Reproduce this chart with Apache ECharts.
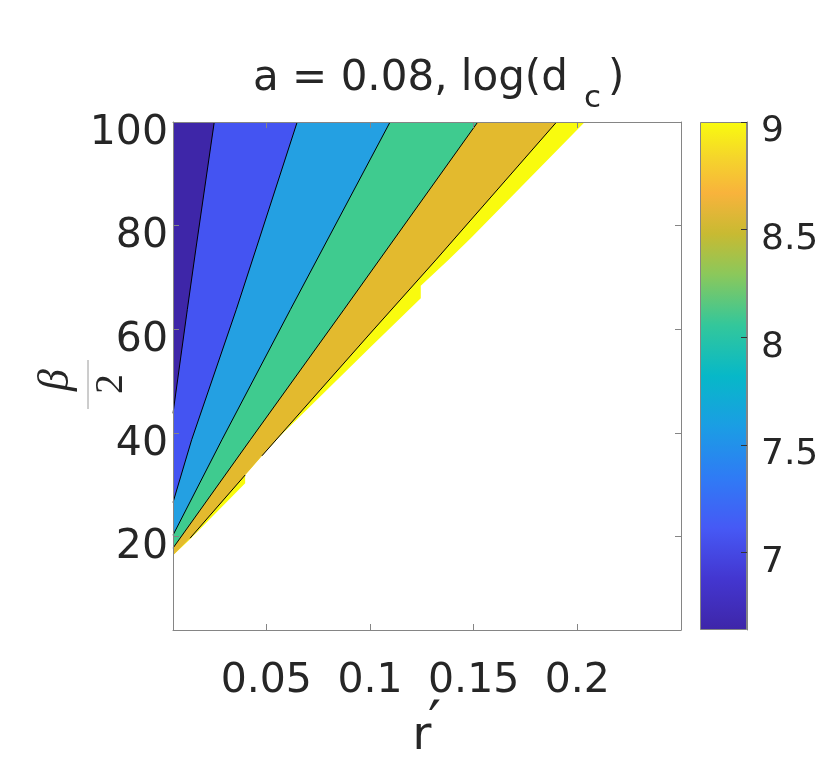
<!DOCTYPE html>
<html>
<head>
<meta charset="utf-8">
<title>a = 0.08, log(d_c)</title>
<script src="https://cdn.jsdelivr.net/npm/echarts@6/dist/echarts.min.js"></script>
<style>
  html, body { margin: 0; padding: 0; background: #fff; }
  #chart { width: 830px; height: 765px; }
</style>
</head>
<body>
<div id="chart"></div>
<script>
// axes
const xRange = [0.005, 0.25]
const yRange = [2, 100]
const xTicks = [0.05, 0.1, 0.15, 0.2]
const yTicks = [20, 40, 60, 80, 100]
const cRange = [6.64, 9]
const cTicks = [7, 7.5, 8, 8.5, 9]

// contour lines of log(d_c) as [r', beta/2]
const c7 = [[0.005, 43.8], [0.0119, 63.8], [0.0161, 75.7], [0.0249, 100]]
const c75 = [[0.005, 26.6], [0.014, 38.7], [0.0355, 63.8], [0.0452, 75.7], [0.0649, 100]]
const c8 = [[0.005, 20.3], [0.0286, 38.7], [0.0616, 63.8], [0.1097, 100]]
const c85 = [[0.005, 17.8], [0.0423, 38.7], [0.0874, 63.8], [0.152, 100]]
const c9Lower = [[0.0132, 19.7], [0.0398, 31.9]]
const c9Upper = [[0.0479, 35.6], [0.1003, 59.3], [0.1318, 73.4], [0.19, 100]]
// edge of the region where d_c is defined (white below it)
const edge = [[0.005, 16.4], [0.0132, 19.5], [0.0398, 30.3], [0.0398, 31.9], [0.0479, 35.6],
  [0.0576, 39.8], [0.1003, 56.6], [0.1245, 66.0], [0.1245, 68.4], [0.1378, 73.4],
  [0.1487, 77.6], [0.2036, 100]]

// band colours, highest band first
const bandColors = ['#F9FB0E', '#E3BA2E', '#3FCB8F', '#24A0E2', '#4454F2', '#3E26A8']
// colorbar (parula-like)
const cbStops = [
  [0, '#3E26A8'], [0.1, '#4336D0'], [0.2, '#4659F5'], [0.3, '#2F7BF5'],
  [0.4, '#1B9DE4'], [0.5, '#07B8C8'], [0.6, '#33C79B'], [0.7, '#8BC85B'],
  [0.78, '#C8BA32'], [0.86, '#F8B33C'], [0.93, '#F5D52B'], [1, '#F9FB0E']
]

const FONT = 'DejaVu Sans'
const INK = '#262626'
const AXIS = '#858585'

const goldBase = [edge[0]].concat(c9Lower, c9Upper)
const fillLines = [edge, goldBase, c85, c8, c75, c7]
const contourLines = [c7, c75, c8, c85, c9Lower, c9Upper]

function mainX(position, showLabel) {
  return {
    type: 'value', gridIndex: 0, position,
    min: xRange[0], max: xRange[1], z: 5,
    axisLine: { show: true, onZero: false, lineStyle: { color: AXIS, width: 1 } },
    axisTick: { show: true, inside: true, length: 6, customValues: xTicks, lineStyle: { color: AXIS } },
    axisLabel: {
      show: showLabel, customValues: xTicks, margin: 31,
      color: INK, fontFamily: FONT, fontSize: 41,
      formatter: v => String(v)
    },
    splitLine: { show: false },
    name: showLabel ? 'r' : '',
    nameLocation: 'middle',
    nameGap: 84,
    nameTextStyle: { fontFamily: FONT, fontSize: 46, color: INK, padding: [0, 10, 0, 0] }
  }
}

function mainY(position, showLabel) {
  return {
    type: 'value', gridIndex: 0, position,
    min: yRange[0], max: yRange[1], z: 5,
    axisLine: { show: true, onZero: false, lineStyle: { color: AXIS, width: 1 } },
    axisTick: { show: true, inside: true, length: 6, customValues: yTicks, lineStyle: { color: AXIS } },
    axisLabel: {
      show: showLabel, customValues: yTicks, margin: 5,
      color: INK, fontFamily: FONT, fontSize: 41,
      verticalAlign: 'top', lineHeight: 22
    },
    splitLine: { show: false }
  }
}

function label(text, x, y, font, extra) {
  return Object.assign({
    type: 'text', x, y,
    style: { text, font, fill: INK, align: 'left', verticalAlign: 'middle' }
  }, extra || {})
}

const chart = echarts.init(document.getElementById('chart'))

const fillSeries = fillLines.map((pts, i) => ({
  type: 'line',
  data: pts,
  symbol: 'none',
  silent: true,
  z: 2,
  lineStyle: { width: 0 },
  areaStyle: { origin: 'end', color: bandColors[i], opacity: 1 }
}))

const lineSeries = contourLines.map(pts => ({
  type: 'line',
  data: pts,
  symbol: 'none',
  silent: true,
  z: 3,
  lineStyle: { color: '#000', width: 1 }
}))

const option = {
  animation: false,
  backgroundColor: '#fff',
  textStyle: { fontFamily: FONT },
  grid: [
    { left: 173, top: 122, width: 508, height: 508, show: true, backgroundColor: '#fff', borderWidth: 0 },
    { left: 700, top: 122, width: 47, height: 508 }
  ],
  xAxis: [
    mainX('bottom', true),
    mainX('top', false),
    { type: 'category', gridIndex: 1, data: [''], show: false }
  ],
  yAxis: [
    mainY('left', true),
    mainY('right', false),
    {
      type: 'value', gridIndex: 1, position: 'right',
      min: cRange[0], max: cRange[1], z: 5,
      axisLine: { show: true, lineStyle: { color: AXIS } },
      axisTick: { show: true, inside: true, length: 6, customValues: cTicks, lineStyle: { color: '#333' } },
      axisLabel: {
        customValues: cTicks, margin: 14, color: INK, fontFamily: FONT, fontSize: 36,
        verticalAlign: 'top', lineHeight: 20, formatter: v => String(v)
      },
      splitLine: { show: false }
    }
  ],
  series: fillSeries.concat(lineSeries, [
    {
      type: 'bar', xAxisIndex: 2, yAxisIndex: 2, stack: 'cb',
      data: [cRange[0]], barWidth: '100%', silent: true,
      itemStyle: { color: 'transparent' }
    },
    {
      type: 'bar', xAxisIndex: 2, yAxisIndex: 2, stack: 'cb',
      data: [cRange[1] - cRange[0]], barWidth: '100%', silent: true,
      itemStyle: {
        borderColor: AXIS, borderWidth: 1,
        color: new echarts.graphic.LinearGradient(0, 1, 0, 0,
          cbStops.map(s => ({ offset: s[0], color: s[1] })))
      }
    }
  ]),
  graphic: [
    // title: a = 0.08, log(d_c)
    label('a = 0.08, log(d', 253, 79, '42px "DejaVu Sans"'),
    label('c', 584, 99, '31px "DejaVu Sans"'),
    label(')', 608, 79, '42px "DejaVu Sans"'),
    // prime of the x label
    label('′', 428, 727, '58px "DejaVu Sans"'),
    // y label: beta over 2, turned
    label('β', 56, 380, 'italic 44px "Liberation Serif"', { rotation: Math.PI / 2 }),
    {
      type: 'line', shape: { x1: 88, y1: 360, x2: 88, y2: 409 },
      style: { stroke: '#9a9a9a', lineWidth: 1 }
    },
    label('2', 111, 384, '40px "Liberation Serif"', { rotation: Math.PI / 2 })
  ]
}
option.graphic[4].style.align = 'center'
option.graphic[6].style.align = 'center'

chart.setOption(option)
</script>
</body>
</html>
